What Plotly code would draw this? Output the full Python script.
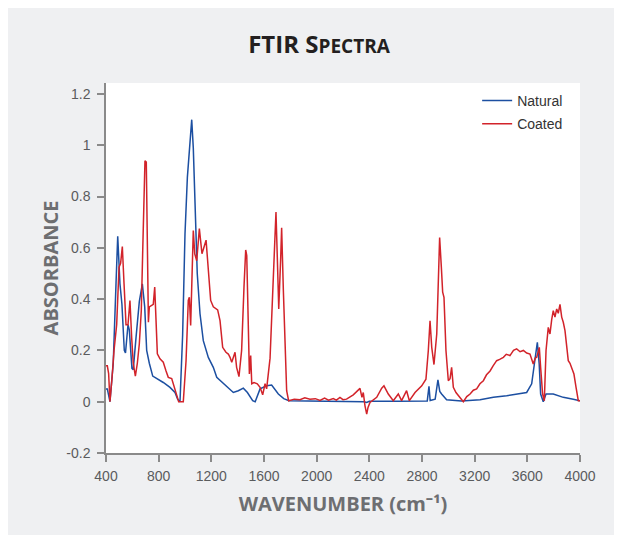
# -*- coding: utf-8 -*-
# FTIR spectra, natural vs coated
import plotly.graph_objects as go

# wavenumber (cm-1) / absorbance
natural_x = [400, 410, 430, 455, 476, 489, 506, 521, 539, 548,
             567, 577, 597, 607, 628, 653, 676, 694, 709, 729,
             755, 790, 835, 886, 924, 944, 962, 982, 1000, 1018,
             1030, 1043, 1051, 1063, 1076, 1093, 1114, 1139, 1177, 1215,
             1241, 1291, 1367, 1405, 1443, 1474, 1514, 1533, 1570, 1620,
             1658, 1709, 1750, 1790, 1900, 2000, 2200, 2360, 2380, 2400,
             2600, 2840, 2853, 2862, 2900, 2921, 2935, 2949, 2987, 3100,
             3241, 3342, 3443, 3544, 3595, 3633, 3653, 3676, 3690, 3701,
             3721, 3742, 3797, 3873, 3949, 3995, 4000]
natural_y = [0.05, 0.05, 0.0, 0.15, 0.46, 0.645, 0.46, 0.38, 0.2, 0.19,
             0.30, 0.28, 0.13, 0.125, 0.25, 0.39, 0.46, 0.37, 0.2, 0.15,
             0.10, 0.09, 0.075, 0.056, 0.036, 0.01, 0.0, 0.26, 0.655, 0.875,
             0.955, 1.045, 1.10, 0.99, 0.746, 0.50, 0.343, 0.238, 0.173, 0.134,
             0.095, 0.07, 0.036, 0.043, 0.053, 0.036, 0.004, 0.0, 0.05, 0.062,
             0.065, 0.03, 0.012, 0.004, 0.003, 0.002, 0.003, 0.0, -0.003, 0.002,
             0.002, 0.003, 0.06, 0.005, 0.01, 0.085, 0.04, 0.03, 0.008, 0.003,
             0.008, 0.017, 0.023, 0.03, 0.036, 0.07, 0.147, 0.232, 0.148, 0.03,
             0.0, 0.03, 0.03, 0.017, 0.01, 0.004, 0.004]

coated_x = [400, 410, 420, 430, 446, 461, 481, 499, 511, 524,
            537, 552, 567, 582, 595, 607, 623, 638, 653, 668,
            679, 689, 696, 706, 714, 722, 729, 747, 759, 770,
            780, 790, 810, 835, 856, 873, 899, 916, 937, 952,
            987, 1008, 1025, 1033, 1043, 1053, 1063, 1074, 1089, 1109,
            1129, 1160, 1177, 1195, 1215, 1248, 1266, 1286, 1311, 1329,
            1342, 1355, 1380, 1392, 1410, 1430, 1448, 1461, 1469, 1481,
            1489, 1499, 1507, 1524, 1549, 1570, 1590, 1608, 1620, 1646,
            1666, 1681, 1691, 1701, 1712, 1727, 1734, 1747, 1760, 1772,
            1787, 1830, 1873, 1910, 1949, 1990, 2025, 2060, 2090, 2126,
            2150, 2177, 2200, 2227, 2278, 2329, 2344, 2354, 2367, 2380,
            2390, 2405, 2456, 2494, 2511, 2544, 2582, 2620, 2645, 2683,
            2704, 2747, 2798, 2830, 2848, 2861, 2874, 2891, 2912, 2924,
            2934, 2947, 2957, 2967, 2982, 3000, 3013, 3025, 3038, 3058,
            3076, 3114, 3140, 3165, 3190, 3215, 3240, 3266, 3290, 3317,
            3340, 3367, 3390, 3418, 3440, 3468, 3495, 3519, 3545, 3570,
            3595, 3620, 3645, 3660, 3671, 3691, 3701, 3716, 3729, 3742,
            3759, 3772, 3785, 3797, 3810, 3823, 3835, 3848, 3861, 3873,
            3886, 3898, 3911, 3924, 3937, 3954, 3970, 3987, 4000]
coated_y = [0.14, 0.14, 0.11, 0.0, 0.095, 0.2, 0.30, 0.525, 0.54, 0.605,
            0.46, 0.30, 0.30, 0.395, 0.25, 0.15, 0.10, 0.15, 0.225, 0.355,
            0.59, 0.85, 0.94, 0.935, 0.59, 0.31, 0.37, 0.375, 0.38, 0.447,
            0.29, 0.187, 0.167, 0.154, 0.12, 0.095, 0.09, 0.06, 0.03, 0.0,
            0.0, 0.16, 0.395, 0.407, 0.297, 0.447, 0.668, 0.577, 0.55, 0.675,
            0.577, 0.63, 0.525, 0.395, 0.37, 0.358, 0.316, 0.212, 0.193, 0.186,
            0.173, 0.154, 0.193, 0.134, 0.098, 0.2, 0.447, 0.592, 0.57, 0.33,
            0.108, 0.18, 0.07, 0.075, 0.07, 0.056, 0.027, 0.07, 0.05, 0.17,
            0.434, 0.668, 0.74, 0.564, 0.362, 0.564, 0.678, 0.434, 0.173, 0.043,
            0.004, 0.01, 0.008, 0.015, 0.01, 0.012, 0.005, 0.014, 0.006, 0.012,
            0.006, 0.017, 0.008, 0.01, 0.027, 0.052, 0.017, 0.036, -0.016, -0.048,
            -0.022, -0.003, 0.017, 0.053, 0.062, 0.03, 0.004, 0.03, 0.004, 0.043,
            0.004, 0.036, 0.062, 0.088, 0.2, 0.316, 0.212, 0.145, 0.264, 0.525,
            0.64, 0.525, 0.427, 0.407, 0.2, 0.082, 0.09, 0.134, 0.056, 0.036,
            0.023, 0.0, 0.02, 0.03, 0.045, 0.05, 0.07, 0.082, 0.105, 0.12,
            0.14, 0.16, 0.165, 0.173, 0.185, 0.18, 0.2, 0.206, 0.195, 0.2,
            0.19, 0.186, 0.147, 0.17, 0.173, 0.212, 0.134, 0.03, 0.004, 0.2,
            0.29, 0.264, 0.32, 0.355, 0.33, 0.362, 0.345, 0.38, 0.33, 0.31,
            0.277, 0.22, 0.16, 0.15, 0.134, 0.108, 0.056, 0.004, 0.004]

x_ticks = [400, 800, 1200, 1600, 2000, 2400, 2800, 3200, 3600, 4000]
y_ticks = [-0.2, 0, 0.2, 0.4, 0.6, 0.8, 1, 1.2]
y_tick_labels = ["-0.2", "0", "0.2", "0.4", "0.6", "0.8", "1", "1.2"]

BLUE = "#1c4fa1"
RED = "#d2232a"
AXIS = "#8a8a8a"
TICK_FONT = dict(family="Liberation Sans, Arial", size=14, color="#5a5b5d")
TITLE_FONT = dict(family="Open Sans", size=20, color="#6d6e71", weight="bold")

fig = go.Figure()
fig.add_trace(go.Scatter(x=natural_x, y=natural_y, name="Natural",
                         mode="lines", legendgroup="n",
                         line=dict(color=BLUE, width=1.5)))
fig.add_trace(go.Scatter(x=coated_x, y=coated_y, name="Coated",
                         mode="lines", legendgroup="c",
                         line=dict(color=RED, width=1.5)))

fig.update_layout(
    width=606, height=527,
    margin=dict(l=98, r=34, t=75, b=82),
    paper_bgcolor="#eff0f2",
    plot_bgcolor="white",
    title=dict(text="FTIR S<span style='font-size:19px'>PECTRA</span>",
               x=311 / 606, xref="container", xanchor="center",
               y=1 - 37 / 527, yref="container", yanchor="middle",
               font=dict(family="Open Sans", size=24, color="#231f20",
                         weight="bold")),
    legend=dict(x=0.783, y=0.995, xanchor="left", yanchor="top",
                bgcolor="rgba(0,0,0,0)", tracegroupgap=2,
                font=dict(family="Liberation Sans, Arial", size=14,
                          color="#333333")),
    xaxis=dict(range=[400, 4000], tickvals=x_ticks,
               showgrid=False, zeroline=False,
               showline=True, linecolor=AXIS, linewidth=1.5,
               ticks="outside", ticklen=7, tickwidth=1.5, tickcolor=AXIS,
               tickfont=TICK_FONT, ticklabelstandoff=2,
               title=dict(text="WAVENUMBER (cm⁻¹)", font=TITLE_FONT,
                          standoff=14)),
    yaxis=dict(range=[-0.2, 1.243], tickvals=y_ticks,
               ticktext=y_tick_labels,
               showgrid=False, zeroline=False,
               showline=True, linecolor=AXIS, linewidth=1.5,
               ticks="outside", ticklen=7, tickwidth=1.5, tickcolor=AXIS,
               tickfont=TICK_FONT, ticklabelstandoff=4,
               title=dict(text="ABSORBANCE", font=TITLE_FONT,
                          standoff=2)),
)

fig.write_html("out.html")
